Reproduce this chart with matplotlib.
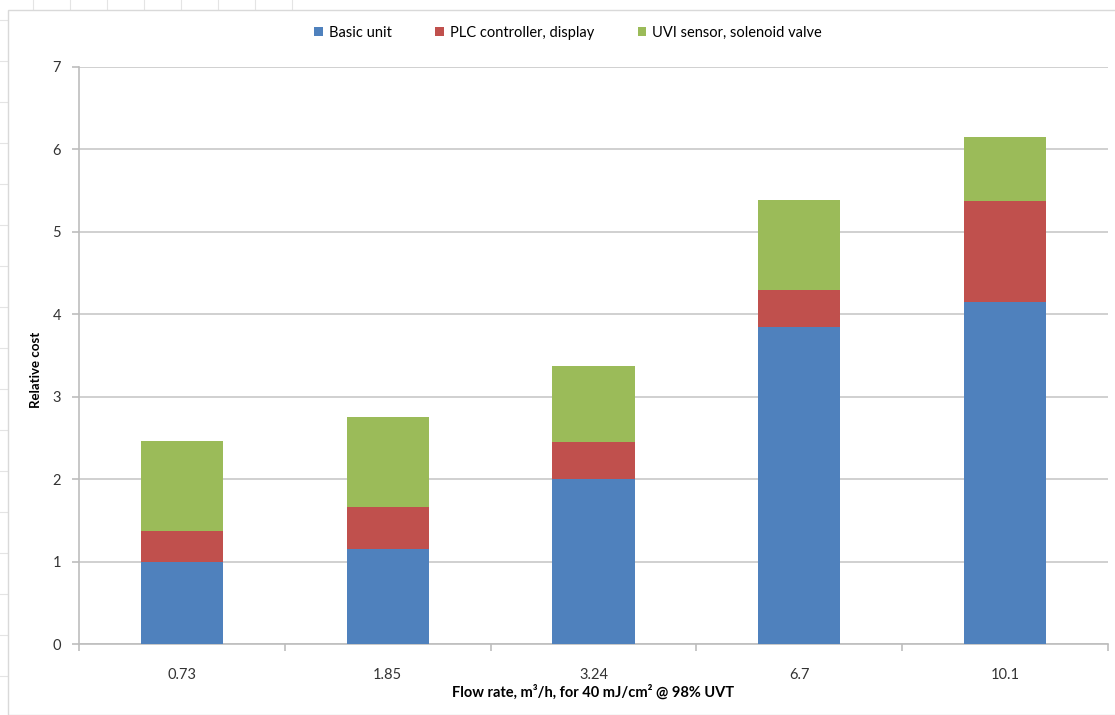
import matplotlib.pyplot as plt
import numpy as np
from matplotlib.patches import Rectangle
from matplotlib.lines import Line2D

# --- Dados ---
categorias = ['0.73', '1.85', '3.24', '6.7', '10.1']
basic_unit = [1.00, 1.15, 2.00, 3.85, 4.15]
plc_display = [0.37, 0.51, 0.45, 0.45, 1.23]
uvi_sensor = [1.09, 1.09, 0.92, 1.09, 0.77]

series = [
    ('Basic unit', basic_unit, '#4F81BD'),
    ('PLC controller, display', plc_display, '#C0504D'),
    ('UVI sensor, solenoid valve', uvi_sensor, '#9BBB59'),
]

plt.rcParams['font.family'] = ['Lato', 'DejaVu Sans']

W, H = 1115, 715
fig = plt.figure(figsize=(W / 100, H / 100), dpi=100)

# fundo tipo planilha (grade clara fora do gráfico)
for x in range(33, 320, 37):
    fig.add_artist(Line2D([x / W, x / W], [1 - 10 / H, 1], color='#e4e4e4', lw=0.8, zorder=-20))
for y in range(20, H, 41):
    fig.add_artist(Line2D([0, 8 / W], [1 - y / H, 1 - y / H], color='#e4e4e4', lw=0.8, zorder=-20))
fig.add_artist(Rectangle((8 / W, 0), 1, 1 - 10 / H, transform=fig.transFigure,
                         facecolor='white', edgecolor='#d9d9d9', lw=1.0, zorder=-10))

ax = fig.add_axes([79 / W, 1 - 644 / H, (1108 - 79) / W, (644 - 67) / H])
ax.patch.set_alpha(0)

x = np.arange(len(categorias))
base = np.zeros(len(categorias))
for nome, vals, cor in series:
    ax.bar(x, vals, 0.4, bottom=base, color=cor, label=nome, zorder=3)
    base += np.array(vals)

ax.set_xlim(-0.5, len(categorias) - 0.5)
ax.set_ylim(0, 7)
ax.set_yticks(range(0, 8))
ax.grid(axis='y', color='#c8c8c8', lw=1.2, zorder=0)

for lado in ['top', 'right']:
    ax.spines[lado].set_visible(False)
ax.spines['left'].set_color('#bdbdbd')
ax.spines['bottom'].set_color('#bdbdbd')
ax.spines['left'].set_linewidth(1.2)
ax.spines['bottom'].set_linewidth(1.2)

ax.set_xticks(x)
ax.set_xticklabels(categorias)
ax.set_xticks(np.arange(-0.5, len(categorias)), minor=True)
ax.tick_params(axis='x', which='major', length=0, pad=17, labelsize=10.5, labelcolor='#333333')
ax.tick_params(axis='x', which='minor', length=5, color='#bdbdbd', width=1.2)
ax.tick_params(axis='y', length=5, color='#bdbdbd', width=1.2, pad=8,
               labelsize=10.5, labelcolor='#333333')

ax.set_ylabel('Relative cost', fontsize=9.5, fontweight='bold')
ax.yaxis.set_label_coords(-0.036, 0.475)
ax.set_xlabel('Flow rate, m³/h, for 40 mJ/cm² @ 98% UVT', fontsize=10.5,
              fontweight='bold', labelpad=2)

fig.legend(loc='center', bbox_to_anchor=(568 / W, 1 - 33 / H), ncol=3, frameon=False,
           fontsize=10.5, handlelength=0.6, handleheight=0.6, handletextpad=0.4,
           columnspacing=3.0)

fig.savefig('out.png', dpi=100)
